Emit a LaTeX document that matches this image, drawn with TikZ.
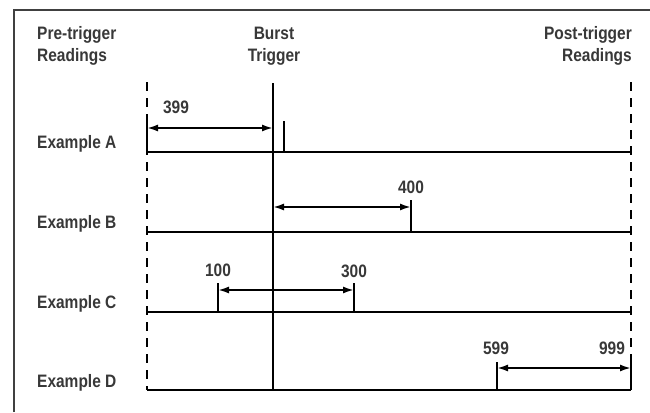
\documentclass[tikz,border=0pt]{standalone}
\usepackage{fontspec}
\setmainfont{Liberation Sans}[FakeStretch=0.86]
\usetikzlibrary{arrows.meta}
\begin{document}
\begin{tikzpicture}[x=1pt,y=-1pt,
  lbl/.style={font=\fontsize{18}{22}\selectfont\bfseries, inner sep=0pt, text=black!78},
  frame/.style={line width=1.4pt, draw=black!75},
  base/.style={line width=2.4pt},
  tickline/.style={line width=2.6pt},
  trig/.style={line width=2.6pt},
  dim/.style={line width=1.9pt, {Latex[length=11pt,width=7pt]}-{Latex[length=11pt,width=7pt]}},
  guide/.style={line width=1.6pt, dash pattern=on 9pt off 7pt},
]
\useasboundingbox (0,0) rectangle (650,412);
\fill[white] (0,0) rectangle (650,412);
% frame
\coordinate (f1) at (14,412);
\coordinate (f2) at (14,10);
\coordinate (f3) at (650,10);
\draw[frame] (f1) -- (f2) -- (f3);

% headers
\node[lbl, anchor=base west] (pre1) at (37,40) {Pre-trigger};
\node[lbl, anchor=base west] (pre2) at (37,62) {Readings};
\node[lbl, anchor=base] (bur1) at (274,40) {Burst};
\node[lbl, anchor=base] (bur2) at (274,62) {Trigger};
\node[lbl, anchor=base east] (post1) at (632,40) {Post-trigger};
\node[lbl, anchor=base east] (post2) at (632,62) {Readings};

% example labels
\node[lbl, anchor=base west] (exA) at (37,148) {Example A};
\node[lbl, anchor=base west] (exB) at (37,228) {Example B};
\node[lbl, anchor=base west] (exC) at (37,308) {Example C};
\node[lbl, anchor=base west] (exD) at (37,387) {Example D};

% guides and trigger
\coordinate (gLt) at (147,82);  \coordinate (gLb) at (147,390);
\coordinate (gRt) at (631,82);  \coordinate (gRb) at (631,390);
\coordinate (tT) at (273,83);   \coordinate (tB) at (273,390);
\draw[guide] (gLt) -- (gLb);
\draw[guide] (gRt) -- (gRb);
\draw[trig] (tT) -- (tB);

% baselines
\foreach \n/\y in {A/152,B/232,C/312,D/390}{
  \coordinate (b\n l) at (147,\y);
  \coordinate (b\n r) at (631,\y);
  \draw[base] (b\n l) -- (b\n r);
}

% Example A
\coordinate (aL1) at (147,121); \coordinate (aL2) at (147,152);
\coordinate (aR1) at (284,121); \coordinate (aR2) at (284,152);
\coordinate (aS) at (147,128);  \coordinate (aE) at (273,128);
\draw[tickline] (aL1) -- (aL2);
\draw[tickline] (aR1) -- (aR2);
\draw[dim] (aS) -- (aE);
\node[lbl, anchor=base] (n399) at (176,113) {399};

% Example B
\coordinate (bT1) at (411,200); \coordinate (bT2) at (411,232);
\coordinate (bS) at (273,207);  \coordinate (bE) at (411,207);
\draw[tickline] (bT1) -- (bT2);
\draw[dim] (bS) -- (bE);
\node[lbl, anchor=base] (n400) at (411,193) {400};

% Example C
\coordinate (cL1) at (218,283); \coordinate (cL2) at (218,312);
\coordinate (cR1) at (354,283); \coordinate (cR2) at (354,312);
\coordinate (cS) at (218,290);  \coordinate (cE) at (354,290);
\draw[tickline] (cL1) -- (cL2);
\draw[tickline] (cR1) -- (cR2);
\draw[dim] (cS) -- (cE);
\node[lbl, anchor=base] (n100) at (218,276) {100};
\node[lbl, anchor=base] (n300) at (354,277) {300};

% Example D
\coordinate (dL1) at (497,362); \coordinate (dL2) at (497,390);
\coordinate (dR1) at (631,362); \coordinate (dR2) at (631,390);
\coordinate (dS) at (497,368);  \coordinate (dE) at (631,368);
\draw[tickline] (dL1) -- (dL2);
\draw[tickline] (dR1) -- (dR2);
\draw[dim] (dS) -- (dE);
\node[lbl, anchor=base] (n599) at (496,354) {599};
\node[lbl, anchor=base] (n999) at (612,354) {999};
\end{tikzpicture}
\end{document}
